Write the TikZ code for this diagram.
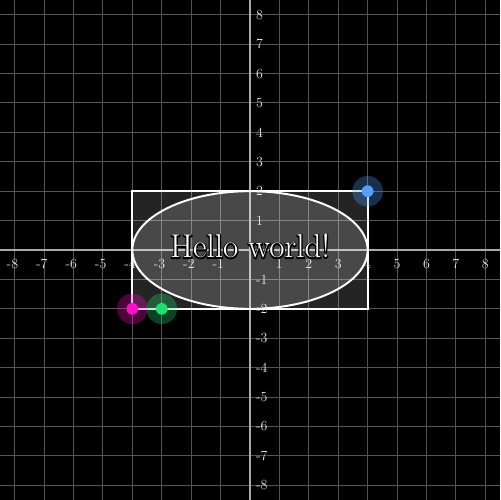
\documentclass[tikz,border=0pt]{standalone}
\usepackage{tikz}
\definecolor{gridc}{HTML}{555555}
\definecolor{axisc}{HTML}{AAAAAA}
\definecolor{lblc}{HTML}{E6E6E6}
\definecolor{dotblue}{HTML}{55A0FF}
\definecolor{dotmag}{HTML}{FF10C8}
\definecolor{dotgreen}{HTML}{1EE070}
\newcommand{\strokedtext}[1]{\special{pdf:literal 1 Tr 0 G 2.4 w 1 j}#1\special{pdf:literal 0 Tr}}
\tikzset{
  gridline/.style={draw=gridc, line width=0.9pt},
  axisline/.style={draw=axisc, line width=2.2pt},
  shapeline/.style={draw=white, line width=1.9pt},
  xlbl/.style={text=lblc, inner sep=0pt, anchor=center, font=\fontsize{13.5}{15}\selectfont},
  ylbl/.style={text=lblc, inner sep=0pt, anchor=west, font=\fontsize{13.5}{15}\selectfont},
  halo/.style={fill=#1, fill opacity=0.3, draw=none},
  dotc/.style={fill=#1, draw=none},
  hellotxt/.style={inner sep=0pt, anchor=base, text=white, font=\fontsize{32}{38}\selectfont},
}
\begin{document}
\begin{tikzpicture}
\fill[black] (-8.5,-8.5) rectangle (8.5,8.5);
\useasboundingbox (-8.5,-8.5) rectangle (8.5,8.5);
% grid
\foreach \i in {-8,...,8} {
  \draw[gridline] (\i,-8.5) -- (\i,8.5);
  \draw[gridline] (-8.5,\i) -- (8.5,\i);
}
% axes
\draw[axisline] (-8.5,0) -- (8.5,0);
\draw[axisline] (0,-8.5) -- (0,8.5);
% shapes
\node[shapeline, fill=white, fill opacity=0.14, draw opacity=1, minimum width=8cm, minimum height=4cm, inner sep=0pt] (rect) at (0,0) {};
\draw[shapeline, fill=white, fill opacity=0.165] (0,0) ellipse [x radius=4, y radius=2];
\coordinate (ell) at (0,0);
% labels
\foreach \i in {1,...,8} {
  \node[xlbl] (xp\i) at (\i,-0.48) {\i};
  \node[xlbl] (xn\i) at (-\i,-0.48) {\llap{-}\i};
  \node[ylbl] (yp\i) at (0.2,\i) {\i};
  \node[ylbl] (yn\i) at (0.2,-\i) {-\i};
}
% dots
\coordinate (pb) at (4,2);
\coordinate (pm) at (-4,-2);
\coordinate (pg) at (-3,-2);
\fill[halo=dotblue] (pb) circle (0.52);
\fill[dotc=dotblue] (pb) circle (0.2);
\fill[halo=dotmag] (pm) circle (0.52);
\fill[dotc=dotmag] (pm) circle (0.2);
\fill[halo=dotgreen] (pg) circle (0.52);
\fill[dotc=dotgreen] (pg) circle (0.2);
% text with black outline: stroked layer below, filled layer on top
\node[hellotxt] (hellooutline) at (0,-0.27) {\strokedtext{Hello world!}};
\node[hellotxt] (hello) at (0,-0.27) {Hello world!};
\end{tikzpicture}
\end{document}
